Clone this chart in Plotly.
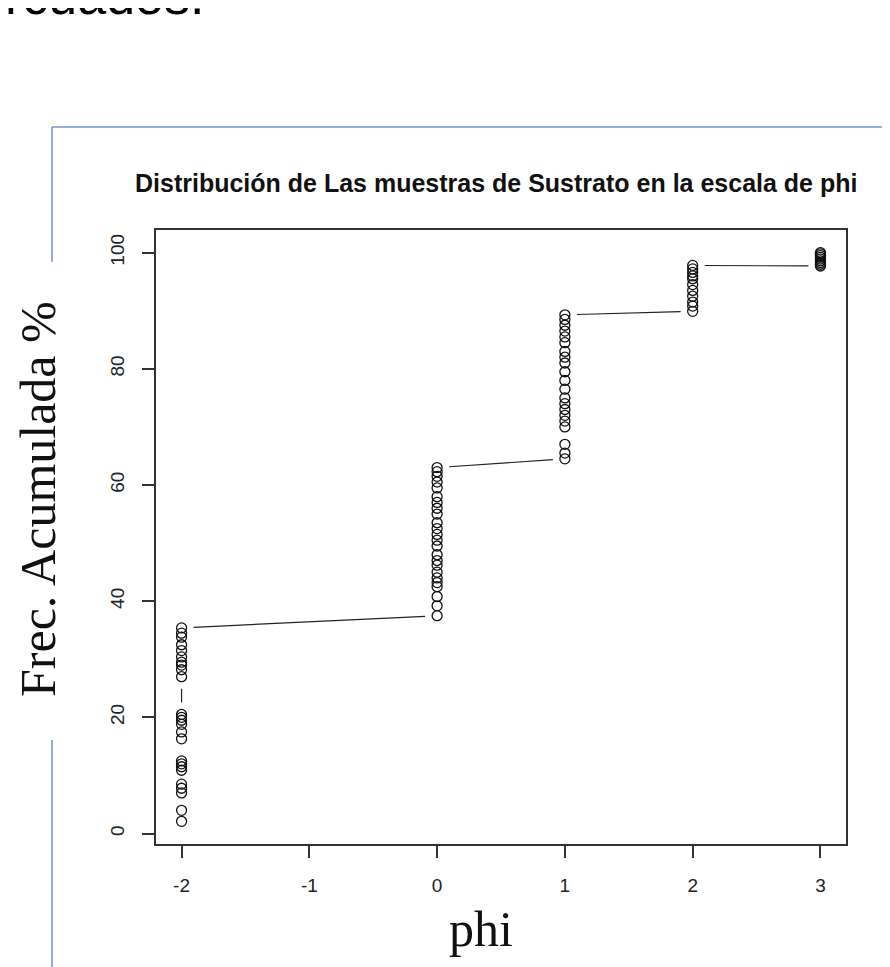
import plotly.graph_objects as go

# ---- data ----
phi_classes = [-2, 0, 1, 2, 3]
frec_m2 = [2.1, 4.0, 7.0, 7.8, 8.5, 10.9, 11.5, 12.0, 12.5, 16.3, 17.5, 18.8, 19.5, 20.0, 20.5,
           27.0, 28.2, 29.0, 29.5, 30.4, 31.5, 32.5, 33.8, 34.5, 35.4]
frec_0 = [37.5, 39.2, 40.8, 42.5, 43.2, 44.0, 45.0, 46.2, 47.0, 48.0, 49.5, 50.5, 51.5, 52.5,
          53.5, 55.0, 56.0, 57.0, 58.0, 59.5, 60.5, 61.5, 62.3, 63.0]
frec_1 = [64.5, 65.5, 67.0, 70.0, 71.0, 72.0, 73.0, 74.0, 75.0, 76.5, 78.0, 79.5, 81.0, 82.0,
          83.0, 84.5, 85.5, 86.5, 87.5, 88.5, 89.3]
frec_2 = [89.9, 90.8, 91.5, 92.5, 93.5, 94.5, 95.5, 96.0, 96.6, 97.2, 97.8]
frec_3 = [97.7, 98.0, 98.3, 98.6, 98.9, 99.2, 99.5, 99.8, 100.0]
y_ticks = [0, 20, 40, 60, 80, 100]
x_ticks = [-2, -1, 0, 1, 2, 3]

groups = [frec_m2, frec_0, frec_1, frec_2, frec_3]
xs, ys = [], []
for c, g in zip(phi_classes, groups):
    xs += [c] * len(g)
    ys += g

# ---- layout constants (page has an 8px body margin) ----
OFF = 8
W, H = 890 - OFF, 967 - OFF
ML, MT = 156 - OFF, 230 - OFF
PW, PH = 690, 614
MR, MB = W - ML - PW, H - MT - PH
XR = [-2.2, 3.2]
YR = [-1.8, 103.9]

def to_px(x, y):
    return (ML + (x - XR[0]) / (XR[1] - XR[0]) * PW,
            MT + PH - (y - YR[0]) / (YR[1] - YR[0]) * PH)

def to_data(px, py):
    return (XR[0] + (px - ML) / PW * (XR[1] - XR[0]),
            YR[0] + (MT + PH - py) / PH * (YR[1] - YR[0]))

# R type="b": segments between consecutive points, with gaps around each point
GAP = 12
lx, ly = [], []
for i in range(len(xs) - 1):
    p0 = to_px(xs[i], ys[i])
    p1 = to_px(xs[i + 1], ys[i + 1])
    dx, dy = p1[0] - p0[0], p1[1] - p0[1]
    d = (dx * dx + dy * dy) ** 0.5
    if d <= 2 * GAP:
        continue
    ux, uy = dx / d, dy / d
    a = to_data(p0[0] + ux * GAP, p0[1] + uy * GAP)
    b = to_data(p1[0] - ux * GAP, p1[1] - uy * GAP)
    lx += [a[0], b[0], None]
    ly += [a[1], b[1], None]

fig = go.Figure()
fig.add_trace(go.Scatter(x=lx, y=ly, mode="lines", line=dict(color="#222", width=1.2),
                         hoverinfo="skip", showlegend=False))
fig.add_trace(go.Scatter(x=xs, y=ys, mode="markers",
                         marker=dict(symbol="circle-open", size=10, color="#111",
                                     line=dict(width=1.3, color="#111")),
                         showlegend=False))

axis_common = dict(showline=True, linecolor="#333", linewidth=1.5, mirror=True,
                   ticks="outside", ticklen=12, tickcolor="#333", tickwidth=1.5,
                   showgrid=False, zeroline=False,
                   tickfont=dict(family="Liberation Sans, Arial, sans-serif", size=19, color="#222"),
                   ticklabelstandoff=11)
fig.update_xaxes(range=XR, tickvals=x_ticks, ticktext=[str(v) for v in x_ticks], **axis_common)
fig.update_yaxes(range=YR, tickvals=y_ticks, ticktext=[str(v) for v in y_ticks], tickangle=-90,
                 **axis_common)

def px_paper(px, py):
    # px, py given in reference-screenshot pixels
    px -= OFF
    py -= OFF
    return (px - ML) / PW, (MT + PH - py) / PH

blue = "#7094cc"
shapes = []
for (x0, y0, x1, y1) in [(52, 127, 900, 127), (52, 127, 52, 262), (52, 740, 52, 980)]:
    a = px_paper(x0, y0)
    b = px_paper(x1, y1)
    shapes.append(dict(type="line", xref="paper", yref="paper", x0=a[0], y0=a[1], x1=b[0], y1=b[1],
                       line=dict(color=blue, width=1.5), layer="below"))

annotations = []
tx, ty = px_paper(496, 183)
annotations.append(dict(text="<b>Distribución de Las muestras de Sustrato en la escala de phi</b>",
                        x=tx, y=ty, xref="paper", yref="paper", showarrow=False,
                        xanchor="center", yanchor="middle",
                        font=dict(family="Liberation Sans, Arial, sans-serif", size=25, color="#111")))
ax_, ay_ = px_paper(38, 499)
annotations.append(dict(text="Frec. Acumulada %", x=ax_, y=ay_, xref="paper", yref="paper",
                        showarrow=False, textangle=-90, xanchor="center", yanchor="middle",
                        font=dict(family="Liberation Serif, Times New Roman, serif", size=50, color="#111")))
bx, by = px_paper(481, 929)
annotations.append(dict(text="phi", x=bx, y=by, xref="paper", yref="paper",
                        showarrow=False, xanchor="center", yanchor="middle",
                        font=dict(family="Liberation Serif, Times New Roman, serif", size=50, color="#111")))
cx, cy = px_paper(3, 27)
annotations.append(dict(text="rcuados.", x=cx, y=cy, xref="paper", yref="paper",
                        showarrow=False, xanchor="left", yanchor="bottom",
                        font=dict(family="Liberation Sans, Arial, sans-serif", size=52, color="#000")))

fig.update_layout(width=W, height=H, margin=dict(l=ML, r=MR, t=MT, b=MB),
                  paper_bgcolor="white", plot_bgcolor="white",
                  shapes=shapes, annotations=annotations)

fig.write_html("out.html")
